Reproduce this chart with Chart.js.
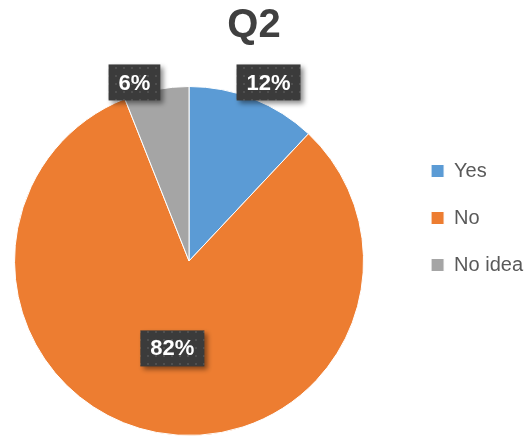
<!DOCTYPE html>
<html>
<head>
<meta charset="utf-8">
<script src="https://cdn.jsdelivr.net/npm/chart.js@4/dist/chart.umd.min.js"></script>
<style>
  html, body { margin: 0; padding: 0; background: #fff; }
  #wrap { width: 526px; height: 436px; }
</style>
</head>
<body>
<div id="wrap"><canvas id="chart"></canvas></div>
<script>
const categories = ['Yes', 'No', 'No idea'];
const values = [12, 82, 6];
const valueLabels = ['12%', '82%', '6%'];
const sliceColors = ['#5B9BD5', '#ED7D31', '#A5A5A5'];

// where each label box sits: fraction of radius + small angle nudge (deg)
const labelRadius = [1.12, 0.51, 1.07];
const labelNudge = [2.4, 0, -6.2];

// dark dotted fill like the Excel data label boxes
function makePattern(ctx) {
    const c = document.createElement('canvas');
    c.width = 8; c.height = 8;
    const p = c.getContext('2d');
    p.fillStyle = '#3b3b3b';
    p.fillRect(0, 0, 8, 8);
    p.fillStyle = '#4f4f4f';
    p.fillRect(3, 3, 2, 2);
    return ctx.createPattern(c, 'repeat');
}

// Excel leaves a gap between the pie and the legend, pull the pie left a bit
const pieGap = {
    id: 'pieGap',
    afterLayout(chart) {
        chart.chartArea.right -= 26;
        chart.chartArea.width -= 26;
    }
};

const labelBoxes = {
    id: 'labelBoxes',
    afterDatasetsDraw(chart) {
        const ctx = chart.ctx;
        const pattern = makePattern(ctx);
        const arcs = chart.getDatasetMeta(0).data;
        ctx.save();
        ctx.font = 'bold 22px "Liberation Sans", Arial, sans-serif';
        arcs.forEach((arc, i) => {
            const { x, y, startAngle, endAngle, outerRadius } = arc.getProps(['x', 'y', 'startAngle', 'endAngle', 'outerRadius'], true);
            const mid = (startAngle + endAngle) / 2 + labelNudge[i] * Math.PI / 180;
            const r = outerRadius * labelRadius[i];
            const cx = x + Math.cos(mid) * r;
            const cy = y + Math.sin(mid) * r;
            const text = valueLabels[i];
            const w = ctx.measureText(text).width + 20;
            const h = 36;
            ctx.save();
            ctx.shadowColor = 'rgba(0,0,0,0.45)';
            ctx.shadowBlur = 5;
            ctx.shadowOffsetX = 3;
            ctx.shadowOffsetY = 3;
            ctx.fillStyle = pattern;
            ctx.fillRect(cx - w / 2, cy - h / 2, w, h);
            ctx.restore();
            ctx.fillStyle = '#fff';
            ctx.textAlign = 'center';
            ctx.textBaseline = 'middle';
            ctx.fillText(text, cx, cy + 1);
        });
        ctx.restore();
    }
};

new Chart(document.getElementById('chart'), {
    type: 'pie',
    data: {
        labels: categories,
        datasets: [{
            data: values,
            backgroundColor: sliceColors,
            borderColor: '#fff',
            borderWidth: 1
        }]
    },
    options: {
        responsive: true,
        maintainAspectRatio: false,
        animation: false,
        layout: { padding: { left: -25, right: -7, top: 0, bottom: 0 } },
        plugins: {
            tooltip: { enabled: false },
            title: {
                display: true,
                text: 'Q2',
                color: '#404040',
                font: { family: '"Liberation Sans", Arial, sans-serif', size: 40, weight: 'bold' },
                padding: { top: 2, bottom: 36 }
            },
            legend: {
                position: 'right',
                align: 'start',
                title: { display: true, text: '', font: { size: 10 }, padding: { top: 122, bottom: 0 } },
                labels: {
                    boxWidth: 13,
                    boxHeight: 13,
                    padding: 27,
                    color: '#595959',
                    font: { family: '"Liberation Sans", Arial, sans-serif', size: 20 }
                }
            }
        }
    },
    plugins: [pieGap, labelBoxes]
});
</script>
</body>
</html>
